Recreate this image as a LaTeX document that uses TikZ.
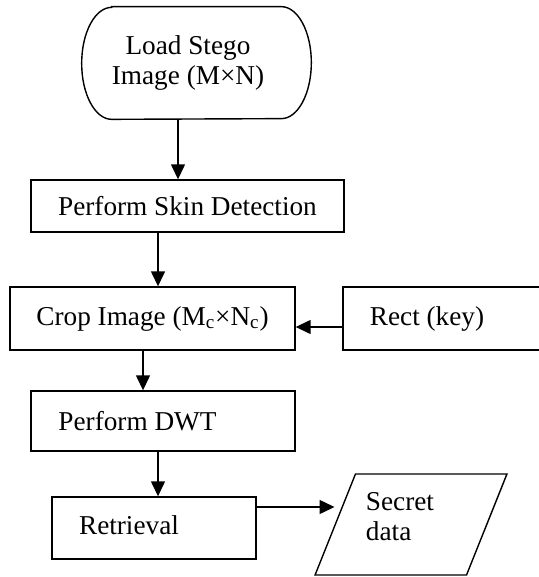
\documentclass[tikz,border=0pt]{standalone}
\usepackage{fontspec}
\setmainfont{Liberation Serif}
\usetikzlibrary{shapes.geometric,arrows.meta}

\tikzset{
  box/.style={draw, line width=0.8pt, inner sep=0pt},
  arr/.style={line width=0.8pt, -{Triangle[length=0.3cm,width=0.28cm]}},
}

\begin{document}
\begin{tikzpicture}[x=0.02cm, y=-0.02cm, font=\fontsize{15.5}{17}\selectfont]
      \useasboundingbox (0,0) rectangle (538,577);
      % Load
      \draw (196.5,63) node[minimum width=4.58cm, minimum height=2.24cm, inner sep=0pt,
        label={[xshift=-0.17cm, align=center]center:Load Stego\\Image (M×N)}](load){};
      \draw[line width=0.8pt] ([xshift=0.6cm]load.north west) -- ([xshift=-0.6cm]load.north east)
        arc[start angle=90, end angle=-90, x radius=0.6cm, y radius=1.12cm]
        -- ([xshift=0.6cm]load.south west)
        arc[start angle=270, end angle=90, x radius=0.6cm, y radius=1.12cm] -- cycle;
      % Skin
      \draw (187.5,206) node[box, minimum width=6.26cm, minimum height=1.04cm](skin){Perform Skin Detection};
      % Crop
      \draw (152.5,318.5) node[box, minimum width=5.7cm, minimum height=1.26cm](crop){Crop Image (M\textsubscript{c}×N\textsubscript{c})};
      % Rect
      \draw (444,318.5) node[box, minimum width=4.04cm, minimum height=1.26cm,
        label={[xshift=-0.34cm]center:Rect (key)}](rect){};
      % DWT
      \draw (163,421) node[box, minimum width=5.28cm, minimum height=1.2cm,
        label={[xshift=-0.51cm]center:Perform DWT}](dwt){};
      % Retrieval
      \draw (154,528) node[box, minimum width=4.08cm, minimum height=1.24cm,
        label={[xshift=-0.5cm, yshift=0.06cm]center:Retrieval}](ret){};
      % Secret
      \draw (411,524.5) node[box, trapezium, inner sep=2pt, trapezium left angle=70, trapezium right angle=110,
        trapezium stretches=true, minimum width=3.84cm, minimum height=2.02cm,
        label={[xshift=-0.22cm, yshift=0.16cm, align=left]center:Secret\\data}](secret){};
      % arrows
      \coordinate (a1) at ([xshift=-0.37cm]load.south);
      \draw[arr] (a1) -- (a1 |- skin.north);
      \coordinate (a2) at ([xshift=-0.59cm]skin.south);
      \draw[arr] (a2) -- (a2 |- crop.north);
      \coordinate (a3) at ([yshift=-0.17cm]rect.west);
      \draw[arr] (a3) -- (a3 -| crop.east);
      \coordinate (a4) at ([xshift=-0.19cm]crop.south);
      \draw[arr] (a4) -- (a4 |- dwt.north);
      \coordinate (a5) at ([xshift=-0.1cm]dwt.south);
      \draw[arr] (a5) -- (a5 |- ret.north);
      \coordinate (a6) at ([yshift=0.42cm]ret.east);
      \draw[arr] (a6) -- (a6 -| secret.west);
\end{tikzpicture}
\end{document}
